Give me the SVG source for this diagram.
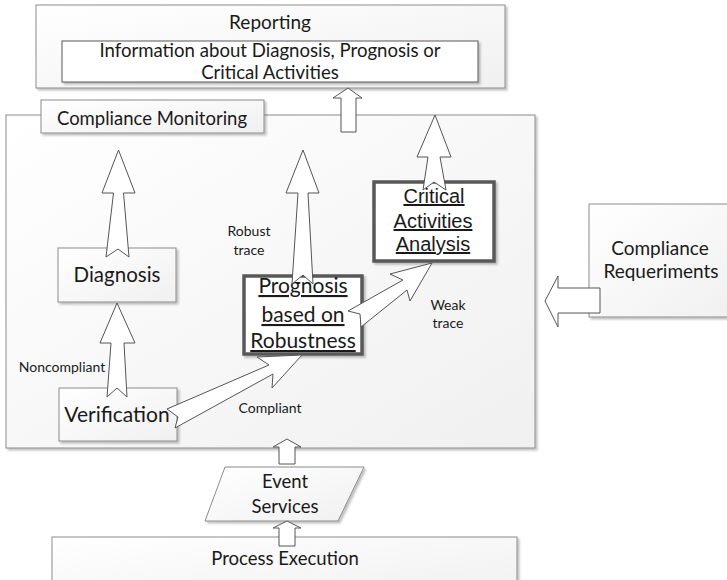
<svg xmlns="http://www.w3.org/2000/svg" width="727" height="580" viewBox="0 0 727 580">
<defs>
<linearGradient id="g1" x1="0" y1="0" x2="1" y2="1">
<stop offset="0" stop-color="#ffffff"/>
<stop offset="1" stop-color="#f0f0f0"/>
</linearGradient>
<filter id="sh" x="-10%" y="-10%" width="130%" height="130%">
<feDropShadow dx="2" dy="2" stdDeviation="1.2" flood-color="#000" flood-opacity="0.25"/>
</filter>
</defs>
<style>
.box{fill:url(#g1);stroke:#8c8c8c;stroke-width:1;filter:url(#sh)}
.thick{fill:#fff;stroke:#595959;stroke-width:3.5;filter:url(#sh)}
.t{font-family:Lato,"Open Sans",sans-serif;fill:#1a1a1a;text-anchor:middle}
.a{font-family:"Liberation Sans",Arial,sans-serif;fill:#1a1a1a;text-anchor:middle;font-size:20px;text-decoration:underline}
.arr{fill:#fff;stroke:#555;stroke-width:1;stroke-linejoin:miter}
</style>
<rect width="727" height="580" fill="#fff"/>

<g id="reporting">
<rect class="box" x="36" y="5" width="469" height="83"/>
<text class="t" x="270" y="29" font-size="19">Reporting</text>
<rect x="62" y="41" width="416" height="41" fill="#fff" stroke="#595959" stroke-width="1" filter="url(#sh)"/>
<text class="t" x="270" y="57" font-size="18.6">Information about Diagnosis, Prognosis or</text>
<text class="t" x="270" y="79" font-size="18.6">Critical Activities</text>
</g>

<g id="compliance-monitoring">
<rect class="box" x="6" y="115" width="529" height="333"/>
<rect class="box" x="41" y="100" width="223" height="33"/>
<text class="t" x="152" y="125" font-size="18.5">Compliance Monitoring</text>
</g>

<g id="diagnosis">
<rect class="box" x="58" y="248" width="118" height="54"/>
<text class="t" x="117" y="282" font-size="20.5">Diagnosis</text>
</g>

<g id="verification">
<rect class="box" x="59" y="388" width="118" height="53"/>
<text class="t" x="117" y="422" font-size="21">Verification</text>
</g>

<g id="prognosis">
<rect class="thick" x="244" y="276" width="118" height="78"/>
<text class="t" x="303" y="293" font-size="21" text-decoration="underline">Prognosis</text>
<text class="t" x="303" y="322" font-size="21" text-decoration="underline">based on</text>
<text class="t" x="303" y="348" font-size="21" text-decoration="underline">Robustness</text>
</g>

<g id="critical-activities">
<rect class="thick" x="374" y="182" width="120" height="79"/>
<text class="a" x="434" y="203">Critical</text>
<text class="a" x="433" y="228">Activities</text>
<text class="a" x="433" y="251">Analysis</text>
</g>

<g id="compliance-requeriments">
<rect class="box" x="589" y="204" width="150" height="113"/>
<text class="t" x="660" y="255" font-size="19">Compliance</text>
<text class="t" x="661" y="278" font-size="19">Requeriments</text>
</g>

<g id="event-services">
<polygon class="box" points="225,467 364,467 338,521 205,521"/>
<text class="t" x="285" y="488" font-size="18.5">Event</text>
<text class="t" x="285" y="513" font-size="18.5">Services</text>
</g>

<g id="process-execution">
<rect class="box" x="52" y="537" width="465" height="60"/>
<text class="t" x="285" y="565" font-size="18.5">Process Execution</text>
</g>

<g id="connectors">
<polygon class="arr" points="341,132 341,98 333,98 348,88 362,98 356,98 356,132"/>
<polygon class="arr" points="106,257 113.5,193 102,193 118.5,150 135,193 123.5,193 129,257 118,249"/>
<polygon class="arr" points="107,397 111,343 100,343 117,303 135,343 124,343 127,397 117,388"/>
<polygon class="arr" points="292,284 298,193 286,193 303,150 319,193 308,193 313,284 303,275"/>
<polygon class="arr" points="423,190 428,157 417,157 435,115 451,157 440,157 446,190 434,182"/>
<polygon class="arr" points="167,409 269,365 257,357 302,355 272,388 273,374 175,428 178,417"/>
<polygon class="arr" points="348,311 403,280 390,274 432,263 410,301 407,290 361,327 360,314"/>
<polygon class="arr" points="600,288 558,288 558,276 545,301 558,327 558,313 600,313"/>
<polygon class="arr" points="279,464 279,447 273,447 287,439 301,447 295,447 295,464"/>
<polygon class="arr" points="279,546 279,528 273,528 287,521 301,528 295,528 295,546"/>
</g>

<g id="labels">
<text class="t" x="249" y="236" font-size="14">Robust</text>
<text class="t" x="249" y="255" font-size="14">trace</text>
<text class="t" x="448" y="310" font-size="14">Weak</text>
<text class="t" x="448" y="328" font-size="14">trace</text>
<text class="t" x="62" y="372" font-size="14">Noncompliant</text>
<text class="t" x="270" y="413" font-size="14">Compliant</text>
</g>
</svg>
